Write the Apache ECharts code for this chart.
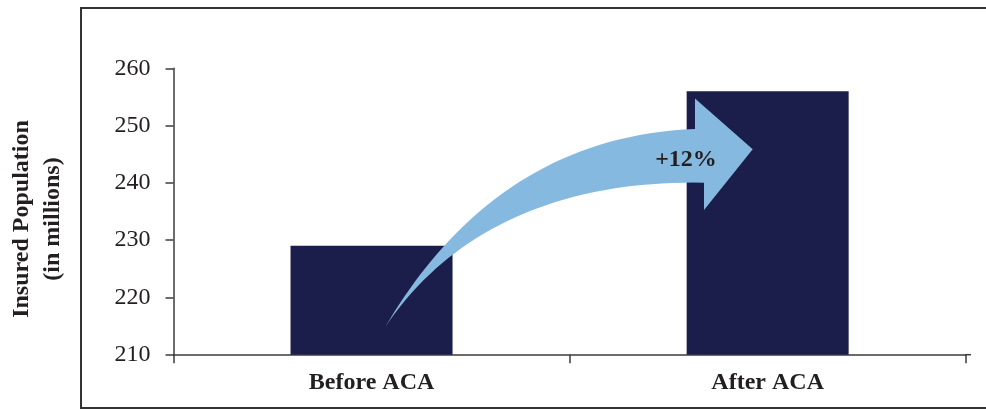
<!DOCTYPE html>
<html>
<head>
<meta charset="utf-8">
<script src="https://cdn.jsdelivr.net/npm/echarts@6/dist/echarts.min.js"></script>
<style>
  html, body { margin: 0; padding: 0; background: #ffffff; }
  #chart { width: 986px; height: 409px; }
</style>
</head>
<body>
<div id="chart"></div>
<script>
// ---- data ----
const categories = ['Before ACA', 'After ACA'];
const insuredMillions = [229, 256];
const yTicks = [210, 220, 230, 240, 250, 260];
const changeLabel = '+12%';
const yTitleLines = ['Insured Population', '(in millions)'];

// ---- styles ----
const SERIF = "'Liberation Serif', 'Times New Roman', Times, serif";
const TEXT = '#231f20';
const AXIS = '#3d3d3d';
const BAR = '#1b1e4b';
const ARROW = '#86b9df';

// sample a cubic bezier (decoration outline only)
function cubic(p0, p1, p2, p3, n) {
  const pts = [];
  for (let i = 0; i <= n; i++) {
    const t = i / n, u = 1 - t;
    pts.push([
      u*u*u*p0[0] + 3*u*u*t*p1[0] + 3*u*t*t*p2[0] + t*t*t*p3[0],
      u*u*u*p0[1] + 3*u*u*t*p1[1] + 3*u*t*t*p2[1] + t*t*t*p3[1]
    ]);
  }
  return pts;
}
const upperEdge = cubic([385, 327.3], [445, 225], [540, 135], [695, 129], 40);
const lowerEdge = cubic([704, 182.7], [560, 180], [450, 230], [385, 327.3], 40);
const arrowPoints = upperEdge
  .concat([[695, 98.5], [752.7, 149.3], [704, 210]])
  .concat(lowerEdge);

const chart = echarts.init(document.getElementById('chart'), null, { renderer: 'canvas' });

chart.setOption({
  animation: false,
  backgroundColor: '#ffffff',
  grid: { left: 173.5, right: 20.3, top: 68.3, bottom: 54.3, containLabel: false },
  xAxis: {
    type: 'category',
    data: categories,
    boundaryGap: true,
    axisLine: { show: true, lineStyle: { color: AXIS, width: 1.5 } },
    axisTick: { show: true, length: 8.5, lineStyle: { color: AXIS, width: 1.5 } },
    axisLabel: {
      margin: 16,
      color: TEXT,
      fontFamily: SERIF,
      fontWeight: 'bold',
      fontSize: 24
    },
    splitLine: { show: false }
  },
  yAxis: {
    type: 'value',
    min: yTicks[0],
    max: yTicks[yTicks.length - 1],
    interval: yTicks[1] - yTicks[0],
    axisLine: { show: true, lineStyle: { color: AXIS, width: 1.5 } },
    axisTick: { show: true, length: 8, lineStyle: { color: AXIS, width: 1.5 } },
    axisLabel: {
      margin: 23,
      color: TEXT,
      fontFamily: SERIF,
      fontSize: 24
    },
    splitLine: { show: false }
  },
  series: [{
    type: 'bar',
    data: insuredMillions,
    barWidth: 162,
    itemStyle: { color: BAR },
    silent: true,
    z: 2
  }],
  graphic: [
    {
      type: 'rect',
      shape: { x: 81, y: 8, width: 920, height: 400 },
      style: { fill: 'none', stroke: '#333333', lineWidth: 2 },
      z: 1,
      silent: true
    },
    {
      type: 'line',
      shape: { x1: 965, y1: 354.7, x2: 971, y2: 354.7 },
      style: { stroke: AXIS, lineWidth: 1.5 },
      z: 3,
      silent: true
    },
    {
      type: 'polygon',
      shape: { points: arrowPoints },
      style: { fill: ARROW, stroke: 'none' },
      z: 10,
      silent: true
    },
    {
      type: 'text',
      x: 686,
      y: 159.5,
      style: {
        text: changeLabel,
        fill: TEXT,
        font: 'bold 24px ' + SERIF,
        align: 'center',
        verticalAlign: 'middle'
      },
      z: 11,
      silent: true
    },
    {
      type: 'text',
      x: 37,
      y: 219,
      rotation: Math.PI / 2,
      style: {
        text: yTitleLines.join('\n'),
        fill: TEXT,
        font: 'bold 24px ' + SERIF,
        lineHeight: 31,
        align: 'center',
        verticalAlign: 'middle'
      },
      z: 11,
      silent: true
    }
  ]
});
</script>
</body>
</html>
